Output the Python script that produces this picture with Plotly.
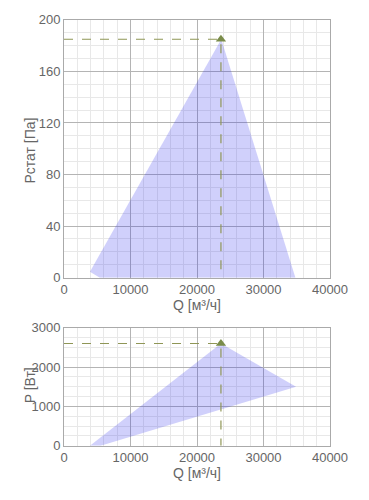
import plotly.graph_objects as go

# Data
p_area_q = [3900, 23650, 34800, 5400, 3900]
p_area_p = [4.5, 185, 0, 0, 4.5]
w_area_q = [3900, 23600, 34900, 5500, 3900]
w_area_p = [0, 2600, 1500, 0, 0]
op_q = 23600
op_p = 185
op_w = 2600

fill = "rgba(40,40,235,0.22)"
dash_col = "#8f9656"
mk_col = "#7a8c4a"
font = dict(family="Liberation Sans, Arial, sans-serif", size=13, color="#666")

fig = go.Figure()
fig.add_trace(go.Scatter(x=p_area_q, y=p_area_p, fill="toself", fillcolor=fill,
                         line=dict(width=0), mode="lines", xaxis="x", yaxis="y", hoverinfo="skip"))
fig.add_trace(go.Scatter(x=[0, op_q, op_q], y=[op_p, op_p, 0], mode="lines",
                         line=dict(color=dash_col, dash="dash", width=1.2), xaxis="x", yaxis="y"))
fig.add_trace(go.Scatter(x=[op_q], y=[op_p], mode="markers",
                         marker=dict(symbol="triangle-up", size=9, color=mk_col), xaxis="x", yaxis="y"))

fig.add_trace(go.Scatter(x=w_area_q, y=w_area_p, fill="toself", fillcolor=fill,
                         line=dict(width=0), mode="lines", xaxis="x2", yaxis="y2", hoverinfo="skip"))
fig.add_trace(go.Scatter(x=[0, op_q, op_q], y=[op_w, op_w, 0], mode="lines",
                         line=dict(color=dash_col, dash="dash", width=1.2), xaxis="x2", yaxis="y2"))
fig.add_trace(go.Scatter(x=[op_q], y=[op_w], mode="markers",
                         marker=dict(symbol="triangle-up", size=9, color=mk_col), xaxis="x2", yaxis="y2"))

common = dict(showline=True, linecolor="#aaa", linewidth=1, mirror=True,
              gridcolor="#b4b4b4", gridwidth=1, zeroline=False, ticks="",
              tickformat="d",
              tickfont=dict(family=font["family"], size=13, color="#666"))

fig.update_layout(
    width=369, height=500, margin=dict(l=64, r=39, t=0, b=0),
    paper_bgcolor="white", plot_bgcolor="white", showlegend=False, font=font,
    xaxis=dict(domain=[0, 1], range=[0, 40000], dtick=10000, anchor="y",
               minor=dict(dtick=2000, showgrid=True, gridcolor="#e8e8e8"),
               title=dict(text="Q [м³/ч]", standoff=2, font=dict(size=14)), **common),
    yaxis=dict(domain=[0.442, 0.9734], range=[0, 200], dtick=40, anchor="x",
               minor=dict(dtick=10, showgrid=True, gridcolor="#e8e8e8"), **common),
    xaxis2=dict(domain=[0, 1], range=[0, 40000], dtick=10000, anchor="y2",
                minor=dict(dtick=2000, showgrid=True, gridcolor="#e8e8e8"),
                title=dict(text="Q [м³/ч]", standoff=2, font=dict(size=14)), **common),
    yaxis2=dict(domain=[0.0954, 0.3386], range=[0, 3000], dtick=1000, anchor="x2",
                minor=dict(dtick=250, showgrid=True, gridcolor="#e8e8e8"), **common),
    annotations=[
        dict(text="Pстат [Па]", textangle=-90, xref="paper", yref="paper",
             x=-(64 - 30) / 266, y=(500 - 148) / 500, xanchor="center", yanchor="middle",
             showarrow=False, font=dict(size=14, color="#666")),
        dict(text="P [Вт]", textangle=-90, xref="paper", yref="paper",
             x=-(64 - 30) / 266, y=(500 - 390) / 500, xanchor="center", yanchor="middle",
             showarrow=False, font=dict(size=14, color="#666")),
    ],
)

fig.write_html("out.html")
